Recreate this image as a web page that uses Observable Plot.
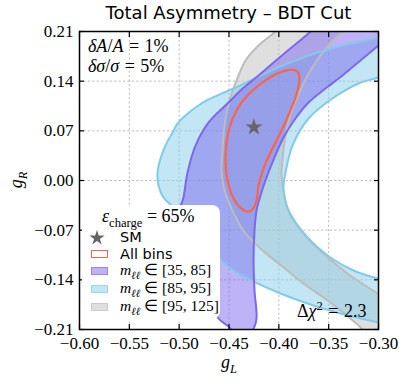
<!DOCTYPE html>
<html><head><meta charset="utf-8">
<script src="https://cdn.jsdelivr.net/npm/d3@7"></script>
<script src="https://cdn.jsdelivr.net/npm/@observablehq/plot@0.6"></script>
<style>
body{margin:0;background:#fff;}
#wrap{position:relative;width:408px;height:388px;overflow:hidden;font-family:"DejaVu Sans",sans-serif;color:#000;}
.abs{position:absolute;white-space:nowrap;line-height:1;}
.math{font-family:"Liberation Serif",serif;}
.math sub,.math sup{font-size:0.7em;line-height:0;}
#wrap svg{position:absolute;left:0;top:0;}
</style></head><body><div id="wrap"></div>
<script>
// ---- data ----
const xTicks = [-0.60, -0.55, -0.50, -0.45, -0.40, -0.35, -0.30];
const yTicks = [-0.21, -0.14, -0.07, 0.00, 0.07, 0.14, 0.21];
const smGL = [-0.425];
const smGR = [0.075];
// contour (gL, gR) points, m_ll in [95,125]
const band_95_125 = [[-0.3903,0.2283],[-0.4033,0.21],[-0.4204,0.1903],[-0.4334,0.1691],[-0.4425,0.1409],[-0.4495,0.1127],[-0.4545,0.0775],[-0.4565,0.0423],[-0.4575,0.0141],[-0.4545,-0.0141],[-0.4465,-0.0423],[-0.4355,-0.0705],[-0.4164,-0.0987],[-0.3963,-0.1212],[-0.3753,-0.1452],[-0.3482,-0.1719],[-0.3211,-0.2030],[-0.3080,-0.2199],[-0.2930,-0.2326],[-0.2830,-0.1762],[-0.3010,-0.1593],[-0.3311,-0.1311],[-0.3552,-0.1029],[-0.3753,-0.0747],[-0.3903,-0.0423],[-0.3953,-0.0141],[-0.3973,0.0070],[-0.3963,0.0310],[-0.3933,0.0634],[-0.3863,0.1015],[-0.3763,0.1339],[-0.3652,0.1621],[-0.3502,0.1903],[-0.3361,0.21],[-0.3261,0.2255]];
// m_ll in [85,95]
const band_85_95 = [[-0.2830,0.2086],[-0.3000,0.2015],[-0.3361,0.1903],[-0.3702,0.1762],[-0.4033,0.1579],[-0.4365,0.1353],[-0.4525,0.1254],[-0.4706,0.1142],[-0.4836,0.1029],[-0.4937,0.0916],[-0.5017,0.0803],[-0.5067,0.0677],[-0.5137,0.0493],[-0.5187,0.0310],[-0.5217,0.0113],[-0.5207,-0.0070],[-0.5157,-0.0240],[-0.5067,-0.0367],[-0.4937,-0.0536],[-0.4786,-0.0775],[-0.4636,-0.1029],[-0.4485,-0.1240],[-0.4234,-0.1437],[-0.3983,-0.1593],[-0.3682,-0.1748],[-0.3381,-0.1874],[-0.3000,-0.2001],[-0.2830,-0.2058],[-0.2830,-0.1452],[-0.3010,-0.1381],[-0.3251,-0.1268],[-0.3482,-0.1085],[-0.3712,-0.0803],[-0.3903,-0.0423],[-0.3953,-0.0141],[-0.3933,0.0113],[-0.3863,0.0493],[-0.3702,0.0874],[-0.3462,0.1156],[-0.3201,0.1367],[-0.3000,0.1452],[-0.2830,0.1522]];
// m_ll in [35,85]
const band_35_85 = [[-0.3562,0.2283],[-0.3682,0.21],[-0.3933,0.1804],[-0.4204,0.1480],[-0.4385,0.1268],[-0.4505,0.1099],[-0.4706,0.0817],[-0.4836,0.0493],[-0.4916,0.0113],[-0.4957,-0.0240],[-0.4987,-0.0381],[-0.4967,-0.0634],[-0.4886,-0.0987],[-0.4786,-0.1339],[-0.4686,-0.1691],[-0.4605,-0.1945],[-0.4505,-0.2058],[-0.4425,-0.2170],[-0.4324,-0.2170],[-0.4254,-0.2086],[-0.4224,-0.1945],[-0.4244,-0.1550],[-0.4254,-0.1127],[-0.4244,-0.0705],[-0.4224,-0.0423],[-0.4184,-0.0211],[-0.4134,0.0000],[-0.4064,0.0254],[-0.3953,0.0606],[-0.3833,0.0874],[-0.3702,0.1099],[-0.3532,0.1297],[-0.3361,0.1480],[-0.3181,0.1691],[-0.3000,0.1903],[-0.2830,0.2086],[-0.2830,0.2326]];
// all bins combined
const allBins = [[-0.3883,0.1564],[-0.3813,0.1536],[-0.3793,0.1438],[-0.3823,0.1212],[-0.3893,0.0958],[-0.3973,0.0705],[-0.4074,0.0423],[-0.4154,0.0169],[-0.4204,-0.0070],[-0.4224,-0.0282],[-0.4264,-0.0409],[-0.4314,-0.0437],[-0.4375,-0.0395],[-0.4455,-0.0254],[-0.4515,0.0000],[-0.4535,0.0282],[-0.4525,0.0521],[-0.4495,0.0747],[-0.4425,0.0987],[-0.4324,0.1184],[-0.4204,0.1339],[-0.4074,0.1466],[-0.3963,0.1536]];
const massBins = ["[35, 85]", "[85, 95]", "[95, 125]"];
const bandColors = ["#7b68ee", "#87ceeb", "#c0c0c0"];
const lineColors = ["#7b68ee", "#80cbe9", "#bcbcbc"];

// ---- chart ----
const pts = a => a.map(([gL, gR]) => ({gL, gR}));
const bandData = [pts(band_35_85), pts(band_85_95), pts(band_95_125)];
const sm = smGL.map((g, i) => ({gL: g, gR: smGR[i]}));
const fmt = d => (d < 0 ? "\u2212" : "") + Math.abs(d).toFixed(2);
const serif = "Liberation Serif";
const gridStyle = {stroke: "#a8a8a8", strokeOpacity: 1, strokeDasharray: "2.2,2.2", strokeWidth: 0.8};
const fillOrder = [2, 1, 0];
const lineOrder = [2, 1, 0];

const chart = Plot.plot({
  width: 408, height: 388,
  marginLeft: 79, marginRight: 30, marginTop: 31, marginBottom: 59,
  x: {domain: [-0.60, -0.30]},
  y: {domain: [-0.21, 0.21]},
  style: {background: "transparent"},
  marks: [
    Plot.gridX(xTicks, gridStyle),
    Plot.gridY(yTicks, gridStyle),
    ...fillOrder.map(i => Plot.line(bandData[i], {x: "gL", y: "gR", curve: "catmull-rom-closed", fill: bandColors[i], fillOpacity: 0.5, stroke: "none", clip: true})),
    ...lineOrder.map(i => Plot.line(bandData[i], {x: "gL", y: "gR", curve: "catmull-rom-closed", stroke: lineColors[i], strokeWidth: 2, clip: true})),
    Plot.line(pts(allBins), {x: "gL", y: "gR", curve: "catmull-rom-closed", stroke: "#ff6347", strokeWidth: 2.2, clip: true}),
    Plot.dot(sm, {x: "gL", y: "gR", symbol: "star", r: 5.4, fill: "#666", stroke: "none"}),
    Plot.axisX(xTicks, {anchor: "bottom", tickSize: 0, tickPadding: 7, tickFormat: fmt, fontSize: 17, fontFamily: serif, label: null}),
    Plot.axisY(yTicks, {anchor: "left", tickSize: 0, tickPadding: 6, tickFormat: fmt, fontSize: 17, fontFamily: serif, label: null}),
    Plot.axisX(xTicks, {anchor: "bottom", tickSize: 5, dy: -5, tickFormat: () => "", label: null, strokeWidth: 1.2}),
    Plot.axisX(xTicks, {anchor: "top", tickSize: 5, dy: 5, tickFormat: () => "", label: null, strokeWidth: 1.2}),
    Plot.axisY(yTicks, {anchor: "left", tickSize: 5, dx: 5, tickFormat: () => "", label: null, strokeWidth: 1.2}),
    Plot.axisY(yTicks, {anchor: "right", tickSize: 5, dx: -5, tickFormat: () => "", label: null, strokeWidth: 1.2}),
    Plot.frame({stroke: "#000", strokeWidth: 1.5})
  ]
});
const wrap = document.getElementById("wrap");
wrap.appendChild(chart);

function addText(html, style, cls) {
  const d = document.createElement("div");
  d.className = "abs " + (cls || "");
  d.innerHTML = html;
  Object.assign(d.style, style);
  wrap.appendChild(d);
  return d;
}
// title
addText("Total Asymmetry \u2013 BDT Cut", {left: "79px", width: "299px", textAlign: "center", top: "4px", fontSize: "18px"});
// annotations
addText("<i>\u03b4A</i>/<i>A</i> = 1%", {left: "88px", top: "37px", fontSize: "18px", wordSpacing: "1px"}, "math");
addText("<i>\u03b4\u03c3</i>/<i>\u03c3</i> = 5%", {left: "88px", top: "57px", fontSize: "18px", wordSpacing: "1px"}, "math");
addText("\u0394<i>\u03c7</i><sup>2</sup> = 2.3", {left: "297px", top: "302px", fontSize: "18px", wordSpacing: "1px"}, "math");
// axis labels
addText("<i>g</i><sub><i>L</i></sub>", {left: "229px", top: "353px", fontSize: "18px", transform: "translateX(-50%)"}, "math");
addText("<i>g</i><sub><i>R</i></sub>", {left: "16px", top: "180px", fontSize: "18px", transform: "translate(-50%,-50%) rotate(-90deg)"}, "math");

// legend
addText("", {left: "82px", top: "205px", width: "138px", height: "114px", background: "#fff", borderRadius: "8px"});
addText("<i>\u03b5</i><sub>charge</sub> = 65%", {left: "102px", top: "207px", fontSize: "18px"}, "math");
const rowC = i => 236.7 + i * 17.6;
// SM star
const starPath = d3.symbol(d3.symbolStar, 72)();
const ns = "http://www.w3.org/2000/svg";
const sv = document.createElementNS(ns, "svg");
sv.setAttribute("width", 24); sv.setAttribute("height", 24);
sv.style.position = "absolute"; sv.style.left = (97 - 12) + "px"; sv.style.top = (rowC(0) - 12) + "px";
const p = document.createElementNS(ns, "path");
p.setAttribute("d", starPath); p.setAttribute("transform", "translate(12,13)"); p.setAttribute("fill", "#666");
sv.appendChild(p); wrap.appendChild(sv);
addText("SM", {left: "120px", top: (rowC(0) - 7) + "px", fontSize: "14.5px"});
// All bins
addText("", {left: "91px", top: (rowC(1) - 4.5) + "px", width: "15px", height: "6px", border: "1.5px solid #ff6347", background: "#fff"});
addText("All bins", {left: "120px", top: (rowC(1) - 7) + "px", fontSize: "14.5px"});
massBins.forEach((b, k) => {
  const i = k + 2;
  const c = d3.color(bandColors[k]); c.opacity = 0.5;
  const lc = d3.color(lineColors[k]); lc.opacity = 0.6;
  addText("", {left: "91px", top: (rowC(i) - 4.5) + "px", width: "15px", height: "6px", border: "1.5px solid " + lc.formatRgb(), background: c.formatRgb()});
  addText("<i>m</i><sub><i>\u2113\u2113</i></sub> \u2208 " + b, {left: "120px", top: (rowC(i) - 9.5) + "px", fontSize: "15.5px"}, "math");
});
</script></body></html>
